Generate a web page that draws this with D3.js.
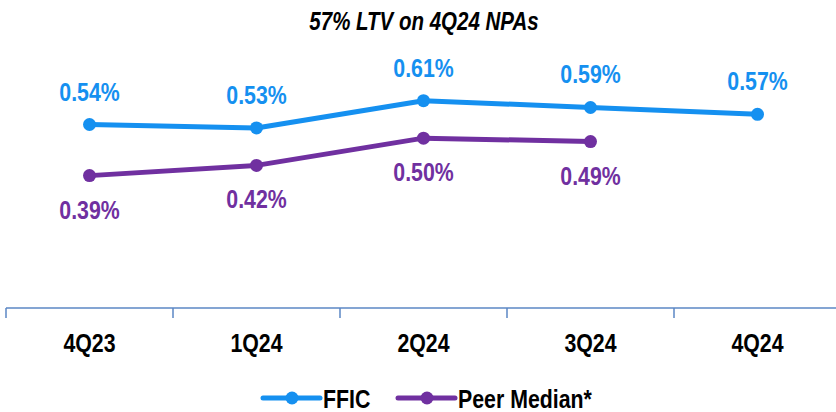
<!DOCTYPE html>
<html>
<head>
<meta charset="utf-8">
<script src="https://cdn.jsdelivr.net/npm/d3@7"></script>
<style>
  body { margin: 0; background: #fff; }
  svg { display: block; }
  text { font-family: "Liberation Sans", Arial, sans-serif; font-weight: bold; }
</style>
</head>
<body>
<div id="chart"></div>
<script>
// chart data
const quarters = ["4Q23", "1Q24", "2Q24", "3Q24", "4Q24"];
const ffic = [0.54, 0.53, 0.61, 0.59, 0.57];
const peer = [0.39, 0.42, 0.50, 0.49];
const seriesNames = ["FFIC", "Peer Median*"];
const titleText = "57% LTV on 4Q24 NPAs";

const W = 836, H = 412;
const blue = "#1590F0", purple = "#7030A0", axisColor = "#5B87C5";
// no narrow font installed, so squeeze the regular one
const narrow = 0.82;

const svg = d3.select("#chart").append("svg")
  .attr("width", W)
  .attr("height", H);

const x = d3.scaleBand().domain(quarters).range([6, 841]);
const y = d3.scaleLinear().domain([0, 0.7]).range([308.5, 70]);
const cx = d => x(d) + x.bandwidth() / 2;

const place = (px, py) => `translate(${px},${py}) scale(${narrow},1)`;

// title
svg.append("text")
  .attr("transform", place(424, 30))
  .attr("text-anchor", "middle")
  .style("font-style", "italic")
  .style("font-size", "25px")
  .text(titleText);

// category axis
const axisY = 308;
svg.append("line")
  .attr("x1", 6).attr("x2", W)
  .attr("y1", axisY).attr("y2", axisY)
  .attr("stroke", axisColor).attr("stroke-width", 1.5);

svg.append("g")
  .selectAll("line")
  .data(quarters)
  .enter()
  .append("line")
    .attr("x1", d => x(d)).attr("x2", d => x(d))
    .attr("y1", axisY).attr("y2", axisY + 10)
    .attr("stroke", axisColor).attr("stroke-width", 1.5);

svg.append("g")
  .selectAll("text")
  .data(quarters)
  .enter()
  .append("text")
    .attr("transform", d => place(cx(d), 352))
    .attr("text-anchor", "middle")
    .style("font-size", "26px")
    .attr("fill", "#000")
    .text(d => d);

const line = d3.line()
  .x((d, i) => cx(quarters[i]))
  .y(d => y(d));

const fmt = v => v.toFixed(2) + "%";

// draw one series: line, dots, value labels
const drawSeries = (vals, color, dy) => {
  const g = svg.append("g");
  g.append("path")
    .datum(vals)
    .attr("d", line)
    .attr("fill", "none")
    .attr("stroke", color)
    .attr("stroke-width", 5)
    .attr("stroke-linejoin", "round");
  g.selectAll("circle")
    .data(vals)
    .enter()
    .append("circle")
      .attr("cx", (d, i) => cx(quarters[i]))
      .attr("cy", d => y(d))
      .attr("r", 6.5)
      .attr("fill", color);
  g.selectAll("text")
    .data(vals)
    .enter()
    .append("text")
      .attr("transform", (d, i) => place(cx(quarters[i]), y(d) + dy))
      .attr("text-anchor", "middle")
      .style("font-size", "26px")
      .attr("fill", color)
      .text(d => fmt(d));
};

drawSeries(ffic, blue, -24);
drawSeries(peer, purple, 43);

// legend
const legend = svg.append("g");
const legendItems = [
  { name: seriesNames[0], color: blue, x0: 263 },
  { name: seriesNames[1], color: purple, x0: 398 }
];
legendItems.forEach(it => {
  legend.append("line")
    .attr("x1", it.x0).attr("x2", it.x0 + 57)
    .attr("y1", 398).attr("y2", 398)
    .attr("stroke", it.color).attr("stroke-width", 5)
    .attr("stroke-linecap", "round");
  legend.append("circle")
    .attr("cx", it.x0 + 29).attr("cy", 398).attr("r", 6.5)
    .attr("fill", it.color);
  legend.append("text")
    .attr("transform", place(it.x0 + 60, 407.5))
    .style("font-size", "26px")
    .attr("fill", "#000")
    .text(it.name);
});
</script>
</body>
</html>
